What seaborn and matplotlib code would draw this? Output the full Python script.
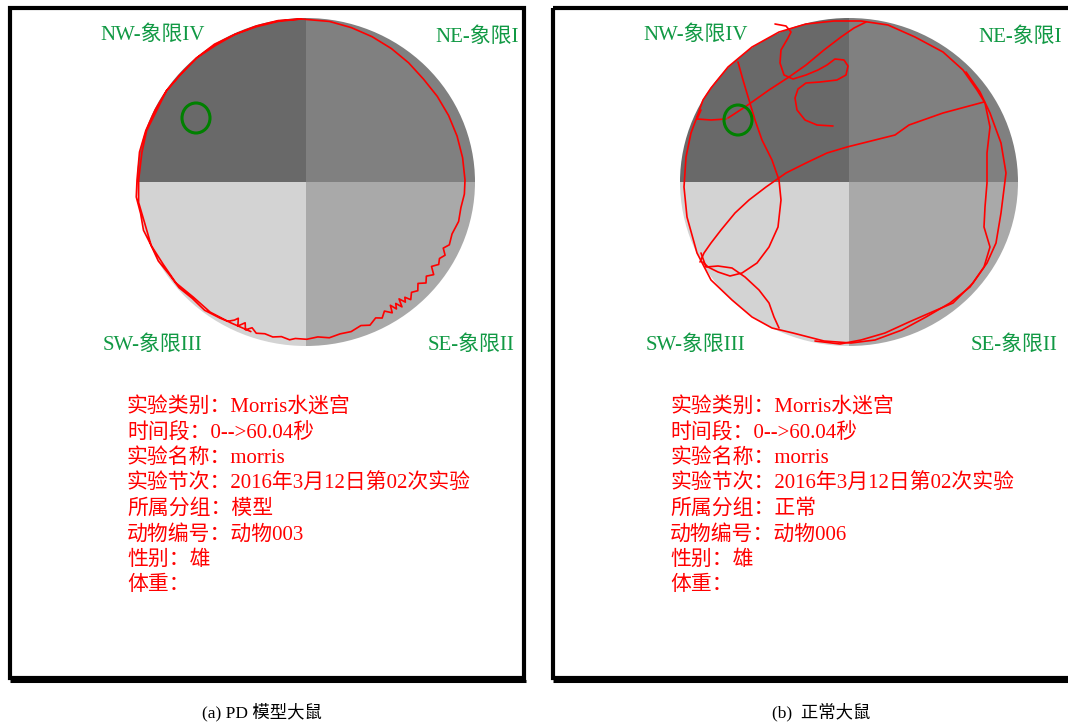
import numpy as np
import pandas as pd
import matplotlib.pyplot as plt
from matplotlib.patches import Wedge, Rectangle, Ellipse
from matplotlib.transforms import Affine2D
import seaborn as sns

sns.set_theme(style="white")
plt.rcParams['font.family'] = ['Liberation Serif', 'Noto Sans CJK SC']

# quadrant names and fills (screen quadrants)
quad_labels = ["NW-象限IV", "NE-象限I", "SW-象限III", "SE-象限II"]
quad_colors = ["#696969", "#808080", "#d3d3d3", "#a9a9a9"]

info_keys = ["实验类别：", "时间段：", "实验名称：", "实验节次：", "所属分组：", "动物编号：", "性别：", "体重："]
info_a = ["Morris水迷宫", "0-->60.04秒", "morris", "2016年3月12日第02次实验", "模型", "动物003", "雄", ""]
info_b = ["Morris水迷宫", "0-->60.04秒", "morris", "2016年3月12日第02次实验", "正常", "动物006", "雄", ""]
captions = ["(a) PD 模型大鼠", "(b)  正常大鼠"]

# panel (a): wall-hugging swim path, (angle deg, radius fraction) read around the pool
path_a = [(90, 1.00), (98, 1.00), (106, 0.995), (114, 0.99), (122, 0.995), (130, 0.99),
          (138, 0.985), (146, 0.99), (154, 0.99), (162, 0.995), (170, 1.00), (180, 1.00),
          (186, 1.01), (192, 1.00), (198, 1.01), (204, 1.00), (210, 1.005), (216, 0.995),
          (222, 1.00), (228, 0.99), (234, 1.00), (240, 0.99), (243, 0.985), (245, 0.96),
          (246, 0.94), (247, 0.985), (249, 0.95), (250, 0.99), (252, 0.965), (254, 0.99),
          (257, 0.98), (260, 0.99), (263, 0.98), (266, 0.995), (268, 0.985), (272, 0.99),
          (276, 0.98), (280, 0.995), (284, 0.985), (288, 0.99), (292, 0.975), (295, 0.995),
          (298, 0.97), (300, 0.99), (302, 0.96), (304, 0.995), (305, 0.95), (306, 0.99),
          (307, 0.96), (308, 1.00), (309, 0.95), (310, 0.99), (311, 0.965), (312, 1.00),
          (314, 0.97), (316, 0.99), (318, 0.96), (320, 0.995), (322, 0.97), (324, 1.00),
          (326, 0.96), (328, 0.99), (330, 0.975), (332, 0.995), (334, 0.965), (336, 0.99),
          (340, 0.98), (345, 0.995), (350, 0.99), (355, 1.00), (360, 1.00), (368, 0.995),
          (376, 0.99), (384, 0.985), (392, 0.98), (400, 0.975), (408, 0.98), (416, 0.985),
          (424, 0.99), (432, 0.995), (440, 1.00), (450, 1.00), (458, 0.995), (466, 0.99),
          (474, 0.99), (482, 0.985), (490, 0.99), (498, 0.985), (506, 0.99), (514, 0.98),
          (522, 0.99), (530, 0.985), (540, 0.99), (548, 1.00), (556, 0.99), (564, 1.00),
          (572, 0.99), (580, 0.995), (588, 0.98), (596, 0.99), (604, 0.985), (612, 0.99)]

# panel (b): swim path segments in image pixels
b_curl = [(833, 126), (817, 125), (805, 120), (797, 110), (795, 98), (798, 89), (806, 83),
          (820, 82), (837, 80), (846, 75), (848, 66), (844, 60), (835, 59), (827, 65),
          (818, 70), (806, 75), (793, 79), (784, 75), (780, 63), (781, 50), (788, 38),
          (791, 32), (786, 26), (775, 24)]
b_diag = [(728, 118), (745, 107), (769, 90), (789, 77), (806, 65), (824, 50), (841, 37),
          (854, 28), (866, 22)]
b_wall = [(697, 117), (703, 100), (711, 88), (728, 67), (752, 47), (779, 32), (806, 24),
          (834, 21), (861, 21), (888, 25), (915, 37), (943, 52), (963, 70), (977, 90),
          (985, 103), (990, 127), (987, 153), (987, 183), (985, 207), (984, 227), (990, 247),
          (984, 267), (970, 287), (950, 303), (926, 317), (902, 330), (875, 340), (851, 343),
          (824, 341), (793, 333), (772, 328), (752, 317), (732, 300), (711, 280), (697, 253),
          (687, 217), (684, 187), (686, 157), (691, 133), (697, 117)]
b_wall2 = [(966, 72), (980, 92), (990, 113), (1001, 143), (1006, 173), (1001, 213),
           (996, 243), (987, 263), (973, 283), (953, 303), (932, 312), (909, 322),
           (885, 333), (861, 340), (840, 344), (815, 341)]
b_cross = [(984, 102), (943, 113), (909, 125), (895, 135), (875, 140), (847, 147),
           (827, 153), (806, 163), (786, 173), (766, 187), (749, 200), (735, 213),
           (721, 230), (711, 243), (704, 253), (700, 262)]
b_vert = [(738, 62), (743, 80), (749, 100), (755, 120), (762, 140), (772, 160), (779, 180),
          (781, 200), (778, 227), (769, 247), (757, 263), (742, 273), (730, 276),
          (718, 272), (708, 267), (703, 262)]
b_low = [(701, 253), (706, 267), (718, 266), (732, 268), (745, 277), (759, 290),
         (769, 303), (774, 317), (779, 328)]
b_plat = [(726, 119), (711, 120), (697, 119), (701, 110)]

fig = plt.figure(figsize=(10.68, 7.23), dpi=100)
ax = fig.add_axes([0, 0, 1, 1])

shift = 543
green = "#119944"
for p in range(2):
    dx = p * shift
    w = 514 if p == 0 else 540
    # frame with heavier bottom edge
    box = Rectangle((10 + dx, 8), w, 670, fill=False, ec='black', lw=3.0, zorder=5)
    ax.add_patch(box)
    ax.plot([10 + dx, 12 + w + dx], [681, 681], color='black', lw=2.2, zorder=5,
            solid_capstyle='butt')
    # pool quadrants
    tr = Affine2D().scale(169, 164).translate(306 + dx, 182) + ax.transData
    for (t1, t2), c in zip([(180, 270), (270, 360), (90, 180), (0, 90)], quad_colors):
        ax.add_patch(Wedge((0, 0), 1, t1, t2, fc=c, ec='none', transform=tr, zorder=1))
    # quadrant labels
    pos = [(100, 35), (435, 37), (103, 345), (428, 345)]
    for (x, y), lab in zip(pos, quad_labels):
        t = ax.text(x + dx, y, lab, color=green, fontsize=15, va='center', ha='left', zorder=4)
        t.set_clip_path(box)
    # experiment info
    info = info_a if p == 0 else info_b
    for i, (k, v) in enumerate(zip(info_keys, info)):
        ax.text(127 + dx, 408 + i * 25.3, k + v, color='red', fontsize=15,
                va='center', ha='left', zorder=4)
    ax.text([262, 821][p], 712, captions[p], color='black', fontsize=12.5,
            ha='center', va='center')

# trajectories
ang = np.deg2rad([a for a, r in path_a])
rad = np.array([r for a, r in path_a])
rows = [dict(x=301 + r * 164 * np.cos(a), y=180 - r * 161 * np.sin(a), seg=0)
        for a, r in zip(ang, rad)]
for s, seg in enumerate([b_curl, b_diag, b_wall, b_wall2, b_cross, b_vert, b_low, b_plat], 1):
    rows += [dict(x=x, y=y, seg=s) for x, y in seg]
traj = pd.DataFrame(rows)
sns.lineplot(data=traj, x='x', y='y', units='seg', estimator=None, sort=False,
             color='red', lw=1.2, ax=ax, zorder=3)

# platforms
for cx, cy in [(196, 118), (738, 120)]:
    ax.add_patch(Ellipse((cx, cy), 28, 30, fill=False, ec='#008000', lw=2.2, zorder=4))

ax.set_xlim(0, 1068)
ax.set_ylim(723, 0)
ax.axis('off')
fig.savefig("out.png", dpi=100)
